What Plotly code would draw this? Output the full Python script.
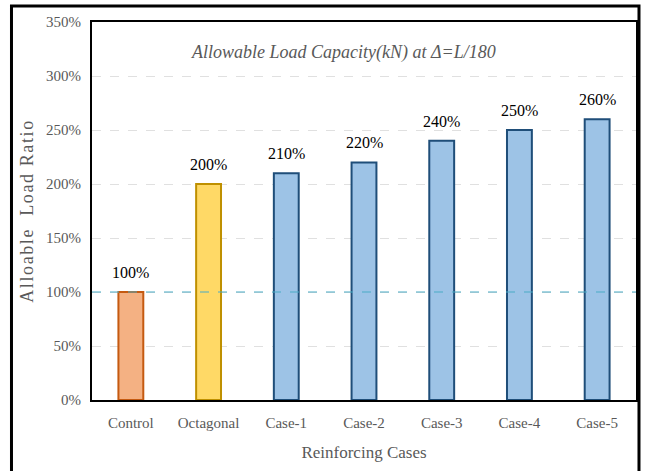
import plotly.graph_objects as go

categories = ["Control", "Octagonal", "Case-1", "Case-2", "Case-3", "Case-4", "Case-5"]
ratios = [100, 200, 210, 220, 240, 250, 260]
labels = ["100%", "200%", "210%", "220%", "240%", "250%", "260%"]
fill_colors = ["#F4B183", "#FFD966", "#9DC3E6", "#9DC3E6", "#9DC3E6", "#9DC3E6", "#9DC3E6"]
line_colors = ["#C55A11", "#BF9000", "#1F4E79", "#1F4E79", "#1F4E79", "#1F4E79", "#1F4E79"]
reference_level = 100

FONT = "Liberation Serif"

fig = go.Figure()
fig.add_trace(go.Bar(
    x=categories, y=ratios,
    marker=dict(color=fill_colors, line=dict(color=line_colors, width=2)),
    width=0.32, hoverinfo="skip",
))

for c, v, t in zip(categories, ratios, labels):
    fig.add_annotation(x=c, y=v, text=t, showarrow=False, yanchor="bottom",
                       yshift=9, font=dict(family=FONT, size=16, color="#000000"))

fig.add_shape(type="line", xref="paper", yref="y", x0=0, x1=1,
              y0=reference_level, y1=reference_level,
              line=dict(color="#4BACC6", width=1.2, dash="dash"))

# outer frame
fig.add_shape(type="rect", xref="paper", yref="paper",
              x0=-0.148, x1=1.0055, y0=-0.3, y1=1.042,
              line=dict(color="#000000", width=3), layer="above")

fig.add_annotation(text="<i>Allowable Load Capacity(kN) at Δ=L/180</i>",
                   xref="paper", yref="paper", x=0.463, y=0.952,
                   showarrow=False,
                   font=dict(family=FONT, size=18, color="#595959"))

fig.update_layout(
    width=647, height=471,
    margin=dict(l=92, r=9, t=22, b=71),
    plot_bgcolor="white", paper_bgcolor="white",
    showlegend=False,
    font=dict(family=FONT, color="#595959"),
    xaxis=dict(
        title=dict(text="Reinforcing Cases", font=dict(family=FONT, size=17, color="#595959"), standoff=16),
        tickfont=dict(family=FONT, size=15, color="#595959"),
        showline=True, linecolor="#000000", linewidth=2, mirror=True,
        ticks="outside", ticklen=8, tickcolor="rgba(0,0,0,0)", showgrid=False,
    ),
    yaxis=dict(
        title=dict(text="Alloable  Load Ratio", font=dict(family=FONT, size=18, color="#595959"), standoff=8),
        range=[0, 350], tickvals=[0, 50, 100, 150, 200, 250, 300, 350],
        ticktext=["0%", "50%", "100%", "150%", "200%", "250%", "300%", "350%"],
        tickfont=dict(family=FONT, size=15, color="#595959"),
        showline=True, linecolor="#000000", linewidth=2, mirror=True,
        showgrid=True, gridcolor="#E0E0E0", griddash="dash", gridwidth=1,
        zeroline=False, ticks="outside", ticklen=6, tickcolor="rgba(0,0,0,0)",
    ),
)

fig.write_html("out.html", config={"displayModeBar": False},
               post_script="document.body.style.margin='0';document.body.style.overflow='hidden';"
                           "var t=document.querySelector('.ytitle');if(t){t.style.letterSpacing='1.6px';}")
